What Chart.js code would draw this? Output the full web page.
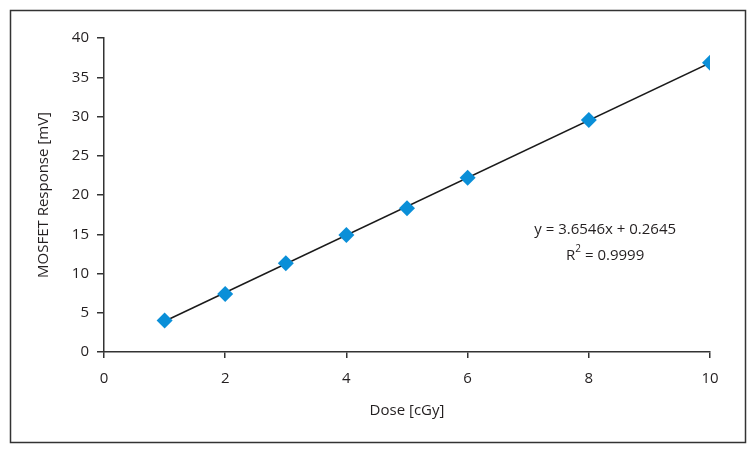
<!DOCTYPE html>
<html>
<head>
<meta charset="utf-8">
<script src="https://cdn.jsdelivr.net/npm/chart.js@4"></script>
<style>
    html, body { margin: 0; padding: 0; background: #fff; }
    #wrap { width: 756px; height: 454px; }
</style>
</head>
<body>
<div id="wrap"><canvas id="chart" width="756" height="454"></canvas></div>
<script>
// Veriler
const doses = [1, 2, 3, 4, 5, 6, 8, 10];
const responses = [4.0, 7.4, 11.3, 14.9, 18.3, 22.2, 29.55, 36.85];
const yTicks = [0, 5, 10, 15, 20, 25, 30, 35, 40];
const xTicks = [0, 2, 4, 6, 8, 10];
// Trend çizgisi (grafikteki denklem)
const trendSlope = 3.6546;
const trendIntercept = 0.2645;
const trendLabel = 'y = 3.6546x + 0.2645';
const r2Value = '0.9999';

const textColor = '#231f20';
const axisColor = '#333333';
const markerColor = '#0a8fd8';
const fontFamily = '"Open Sans", sans-serif';

// Dış çerçeve ve denklem metni
const framePlugin = {
    id: 'frame',
    afterDraw(chart) {
        const ctx = chart.ctx;
        ctx.save();
        ctx.strokeStyle = '#333';
        ctx.lineWidth = 1.5;
        ctx.strokeRect(10.5, 10.5, 735, 432);

        const xs = chart.scales.x;
        const ys = chart.scales.y;
        const cx = xs.getPixelForValue(8.27);
        ctx.fillStyle = textColor;
        ctx.font = '15px ' + fontFamily;
        ctx.textAlign = 'center';
        ctx.textBaseline = 'middle';
        ctx.fillText(trendLabel, cx, ys.getPixelForValue(15.6));

        // R² satırı
        const y2 = ys.getPixelForValue(12.3);
        const main = ' = ' + r2Value;
        const wR = ctx.measureText('R').width;
        ctx.font = '10px ' + fontFamily;
        const wSup = ctx.measureText('2').width;
        ctx.font = '15px ' + fontFamily;
        const wMain = ctx.measureText(main).width;
        let x0 = cx - (wR + wSup + wMain) / 2;
        ctx.textAlign = 'left';
        ctx.fillText('R', x0, y2);
        ctx.font = '10px ' + fontFamily;
        ctx.fillText('2', x0 + wR, y2 - 6);
        ctx.font = '15px ' + fontFamily;
        ctx.fillText(main, x0 + wR + wSup, y2);
        ctx.restore();
    }
};

const trendPoints = [doses[0], doses[doses.length - 1]].map(x => ({ x: x, y: trendSlope * x + trendIntercept }));

new Chart(document.getElementById('chart'), {
    type: 'scatter',
    data: {
        datasets: [{
            data: trendPoints,
            showLine: true,
            borderColor: '#1a1a1a',
            borderWidth: 1.5,
            pointRadius: 0,
            order: 2
        }, {
            data: doses.map((d, i) => ({ x: d, y: responses[i] })),
            pointStyle: 'rectRot',
            pointRadius: 8,
            backgroundColor: markerColor,
            borderColor: markerColor,
            borderWidth: 0,
            order: 1
        }]
    },
    options: {
        responsive: false,
        animation: false,
        layout: { padding: { left: 30, right: 46, top: 38, bottom: 30 } },
        plugins: { legend: { display: false }, tooltip: { enabled: false } },
        scales: {
            x: {
                type: 'linear',
                min: 0,
                max: 10,
                afterFit: s => { s.height = 72; },
                afterBuildTicks: s => { s.ticks = xTicks.map(v => ({ value: v })); },
                border: { color: axisColor, width: 1.5 },
                grid: { drawOnChartArea: false, color: axisColor, tickLength: 6, lineWidth: 1.5 },
                ticks: { color: textColor, padding: 12, font: { family: fontFamily, size: 15 } },
                title: {
                    display: true,
                    text: 'Dose [cGy]',
                    color: textColor,
                    font: { family: fontFamily, size: 15 },
                    padding: { top: 0, bottom: 4 }
                }
            },
            y: {
                type: 'linear',
                min: 0,
                max: 40,
                afterFit: s => { s.width = 74; },
                afterBuildTicks: s => { s.ticks = yTicks.map(v => ({ value: v })); },
                border: { color: axisColor, width: 1.5 },
                grid: { drawOnChartArea: false, color: axisColor, tickLength: 7, lineWidth: 1.5 },
                ticks: { color: textColor, padding: 8, font: { family: fontFamily, size: 15 } },
                title: {
                    display: true,
                    text: 'MOSFET Response [mV]',
                    color: textColor,
                    font: { family: fontFamily, size: 15 },
                    padding: { top: 5, bottom: 0 }
                }
            }
        }
    },
    plugins: [framePlugin]
});
</script>
</body>
</html>
